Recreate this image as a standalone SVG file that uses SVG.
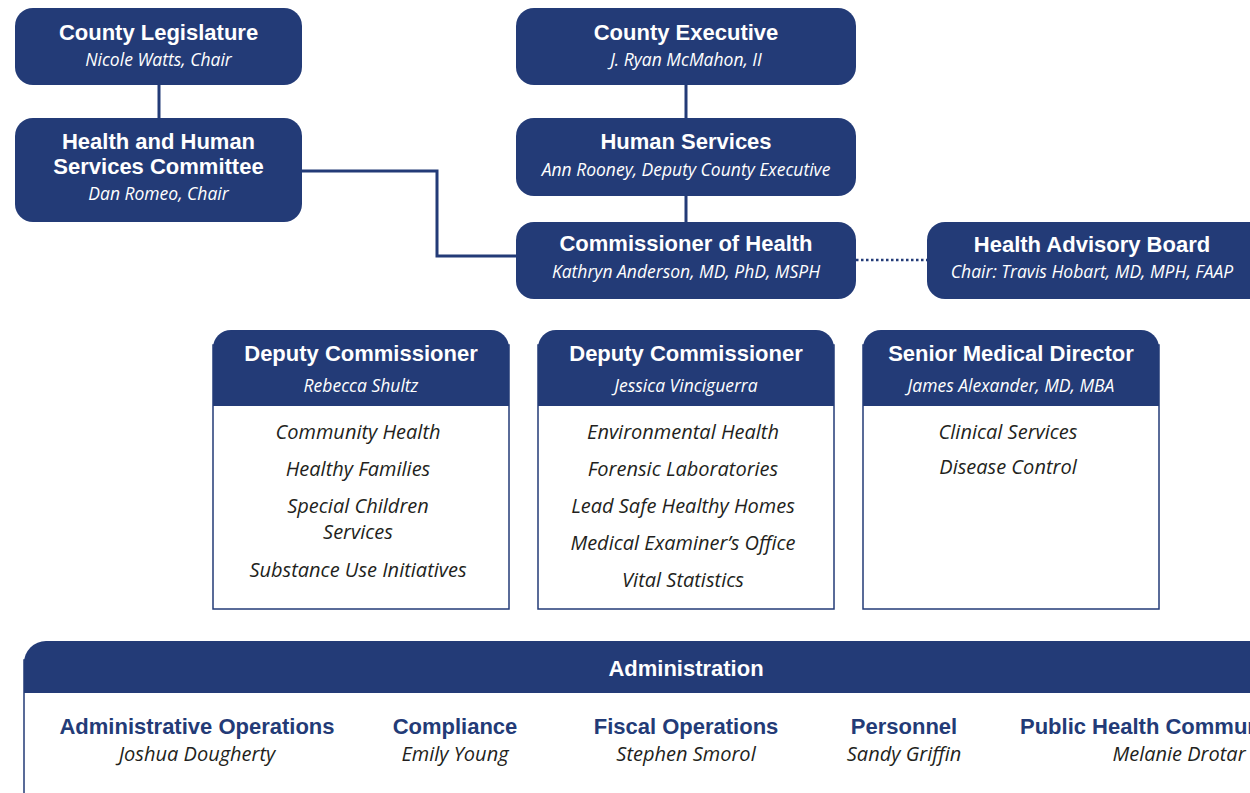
<svg xmlns="http://www.w3.org/2000/svg" width="1250" height="793" viewBox="0 0 1250 793">
<style>
.box{fill:#233b77}
.t{font-family:"Liberation Sans",Arial,sans-serif;font-weight:bold;font-size:22px;fill:#fff;text-anchor:middle}
.s{font-family:"Open Sans","Liberation Sans",sans-serif;font-style:italic;font-size:17.5px;fill:#fff;text-anchor:middle}
.li{font-family:"Open Sans","Liberation Sans",sans-serif;font-style:italic;font-size:20px;fill:#231f20;text-anchor:middle}
.ah{font-family:"Liberation Sans",Arial,sans-serif;font-weight:bold;font-size:22px;fill:#233b77;text-anchor:middle}
.an{font-family:"Open Sans","Liberation Sans",sans-serif;font-style:italic;font-size:20px;fill:#231f20;text-anchor:middle}
.ln{stroke:#233b77;stroke-width:3;fill:none}
.frame{fill:#fff;stroke:#233b77;stroke-width:1.5}
</style>
<rect width="1250" height="793" fill="#fff"/>
<g id="connectors">
<line class="ln" x1="159" y1="85" x2="159" y2="118"/>
<line class="ln" x1="686" y1="85" x2="686" y2="118"/>
<line class="ln" x1="686" y1="196" x2="686" y2="222"/>
<polyline class="ln" points="302,171 437,171 437,256 516,256"/>
<line x1="856" y1="260" x2="927" y2="260" stroke="#233b77" stroke-width="2.5" stroke-dasharray="2.5,2.5"/>
</g>
<g id="county-legislature">
<rect class="box" x="15" y="8" width="287" height="77" rx="18"/>
<text class="t" x="158.5" y="40">County Legislature</text>
<text class="s" x="158.5" y="66">Nicole Watts, Chair</text>
</g>
<g id="hhs-committee">
<rect class="box" x="15" y="118" width="287" height="104" rx="18"/>
<text class="t" x="158.5" y="149">Health and Human</text>
<text class="t" x="158.5" y="174">Services Committee</text>
<text class="s" x="158.5" y="200">Dan Romeo, Chair</text>
</g>
<g id="county-executive">
<rect class="box" x="516" y="8" width="340" height="77" rx="18"/>
<text class="t" x="686" y="40">County Executive</text>
<text class="s" x="686" y="66">J. Ryan McMahon, II</text>
</g>
<g id="human-services">
<rect class="box" x="516" y="118" width="340" height="78" rx="18"/>
<text class="t" x="686" y="149">Human Services</text>
<text class="s" x="686" y="176">Ann Rooney, Deputy County Executive</text>
</g>
<g id="commissioner">
<rect class="box" x="516" y="222" width="340" height="77" rx="18"/>
<text class="t" x="686" y="251">Commissioner of Health</text>
<text class="s" x="686" y="278">Kathryn Anderson, MD, PhD, MSPH</text>
</g>
<g id="health-advisory-board">
<rect class="box" x="927" y="222" width="345" height="77" rx="18"/>
<text class="t" x="1092" y="252">Health Advisory Board</text>
<text class="s" x="1092" y="278">Chair: Travis Hobart, MD, MPH, FAAP</text>
</g>
<g id="deputy-shultz">
<rect class="frame" x="213" y="345" width="296" height="264"/>
<path class="box" d="M213,406 V348 A18,18 0 0 1 231,330 H491 A18,18 0 0 1 509,348 V406 Z"/>
<text class="t" x="361" y="361">Deputy Commissioner</text>
<text class="s" x="361" y="392">Rebecca Shultz</text>
<text class="li" x="358" y="439">Community Health</text>
<text class="li" x="358" y="476">Healthy Families</text>
<text class="li" x="358" y="513">Special Children</text>
<text class="li" x="358" y="539">Services</text>
<text class="li" x="358" y="577">Substance Use Initiatives</text>
</g>
<g id="deputy-vinciguerra">
<rect class="frame" x="538" y="345" width="296" height="264"/>
<path class="box" d="M538,406 V348 A18,18 0 0 1 556,330 H816 A18,18 0 0 1 834,348 V406 Z"/>
<text class="t" x="686" y="361">Deputy Commissioner</text>
<text class="s" x="686" y="392">Jessica Vinciguerra</text>
<text class="li" x="683" y="439">Environmental Health</text>
<text class="li" x="683" y="476">Forensic Laboratories</text>
<text class="li" x="683" y="513">Lead Safe Healthy Homes</text>
<text class="li" x="683" y="550">Medical Examiner’s Office</text>
<text class="li" x="683" y="587">Vital Statistics</text>
</g>
<g id="senior-medical-director">
<rect class="frame" x="863" y="345" width="296" height="264"/>
<path class="box" d="M863,406 V348 A18,18 0 0 1 881,330 H1141 A18,18 0 0 1 1159,348 V406 Z"/>
<text class="t" x="1011" y="361">Senior Medical Director</text>
<text class="s" x="1011" y="392">James Alexander, MD, MBA</text>
<text class="li" x="1008" y="439">Clinical Services</text>
<text class="li" x="1008" y="474">Disease Control</text>
</g>
<g id="administration">
<rect class="frame" x="24" y="660" width="1240" height="150"/>
<path class="box" d="M24,693 V663 A22,22 0 0 1 46,641 H1260 V693 Z"/>
<text class="t" x="686" y="676">Administration</text>
<text class="ah" x="197" y="734">Administrative Operations</text>
<text class="an" x="197" y="761">Joshua Dougherty</text>
<text class="ah" x="455" y="734">Compliance</text>
<text class="an" x="455" y="761">Emily Young</text>
<text class="ah" x="686" y="734">Fiscal Operations</text>
<text class="an" x="686" y="761">Stephen Smorol</text>
<text class="ah" x="904" y="734">Personnel</text>
<text class="an" x="904" y="761">Sandy Griffin</text>
<text class="ah" x="1020" y="734" style="text-anchor:start">Public Health Communications</text>
<text class="an" x="1179" y="761">Melanie Drotar</text>
</g>
</svg>
